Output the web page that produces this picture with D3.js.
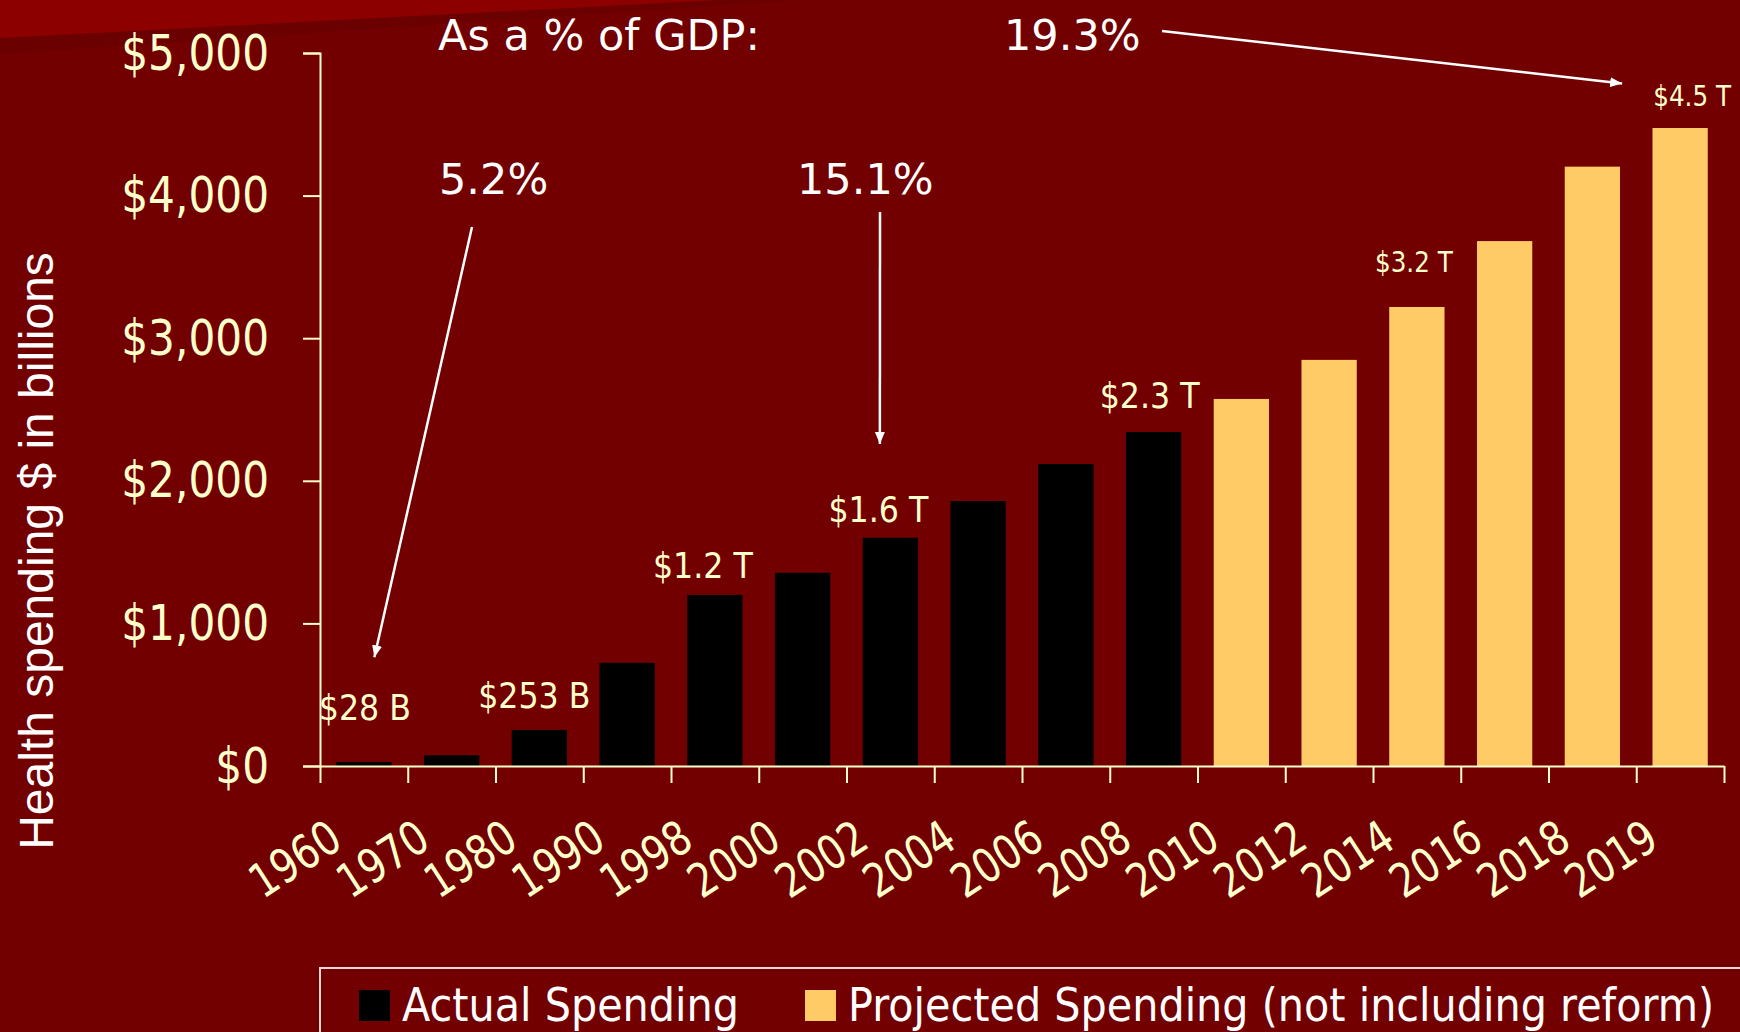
<!DOCTYPE html>
<html>
<head>
<meta charset="utf-8">
<script src="https://cdn.jsdelivr.net/npm/d3@7"></script>
<style>
  html, body { margin: 0; padding: 0; background: #720000; overflow: hidden; }
  svg { display: block; }
</style>
</head>
<body>
<div id="chart"></div>
<script>

// years on the x axis
var years = ["1960", "1970", "1980", "1990", "1998", "2000", "2002", "2004",
             "2006", "2008", "2010", "2012", "2014", "2016", "2018", "2019"];

// health spending, $ billions
var spending = [28, 75, 253, 724, 1200, 1355, 1601, 1858,
                2118, 2342, 2574, 2848, 3219, 3681, 4203, 4474];

// 0 = actual, 1 = projected
var seriesOf = [0, 0, 0, 0, 0, 0, 0, 0, 0, 0, 1, 1, 1, 1, 1, 1];
var seriesNames = ["Actual Spending", "Projected Spending (not including reform)"];

var yTicks = [0, 1000, 2000, 3000, 4000, 5000];

// value labels over some bars
var labelYears = ["1960", "1980", "1998", "2002", "2008", "2014", "2019"];
var labelTexts = ["$28 B", "$253 B", "$1.2 T", "$1.6 T", "$2.3 T", "$3.2 T", "$4.5 T"];

// share of GDP call-outs
var gdpYears  = ["1960", "2002", "2019"];
var gdpShares = ["5.2%", "15.1%", "19.3%"];
var gdpTitle = "As a % of GDP:";
var yTitle = "Health spending $ in billions";


// ---- SETUP ----
var W = 1740, H = 1032;
var bg = "#720000", cream = "#FFFFCC";
var colors = ["#000000", "#FFCB66"];
var tahoma = "'DejaVu Sans', Verdana, sans-serif";

var svg = d3.select("#chart").append("svg")
    .attr("width", W)
    .attr("height", H);

svg.append("rect").attr("width", W).attr("height", H).attr("fill", bg);

// slide header band in the top-left corner
svg.append("path").attr("d", "M0,38 L720,0 L800,0 L0,54 Z").attr("fill", "#660000").attr("opacity", 0.7);
svg.append("path").attr("d", "M0,0 L720,0 L0,38 Z").attr("fill", "#8C0000");

// squeeze text horizontally around its anchor (the original font is narrower)
function squeeze(k) {
    return function() {
        var t = d3.select(this);
        var tx = +t.attr("x") || 0;
        t.attr("x", 0).attr("transform", "translate(" + tx + ",0) scale(" + k + ",1)");
    };
}

// ---- SCALES ----
var x = d3.scaleBand()
    .domain(years)
    .range([320, 1724])
    .paddingInner(0.37)
    .paddingOuter(0.185);

var y = d3.scaleLinear()
    .domain([0, 5000])
    .range([766, 53]);

var edges = d3.scaleLinear()
    .domain([0, years.length])
    .range(x.range());

// ---- BARS ----
var data = years.map(function(d, i) {
    return { year: d, value: spending[i], series: seriesOf[i] };
});

svg.selectAll(".bar")
    .data(data)
    .enter()
    .append("rect")
    .attr("class", "bar")
    .attr("x", d => x(d.year))
    .attr("y", d => y(d.value))
    .attr("width", x.bandwidth())
    .attr("height", d => y(0) - y(d.value))
    .attr("fill", d => colors[d.series]);

// ---- AXES ----
var yAxisGroup = svg.append("g")
    .attr("transform", "translate(" + x.range()[0] + ",0)")
    .call(d3.axisLeft(y)
        .tickValues(yTicks)
        .tickSize(17)
        .tickPadding(34)
        .tickFormat(d => "$" + d3.format(",")(d)));

yAxisGroup.select(".domain").attr("stroke", cream).attr("stroke-width", 2);
yAxisGroup.selectAll(".tick line").attr("stroke", cream).attr("stroke-width", 2);
yAxisGroup.selectAll(".tick text")
    .attr("fill", cream)
    .attr("font-family", tahoma)
    .attr("font-size", 50)
    .each(squeeze(0.845));

// ticks sit on the band edges
var edgeAxisGroup = svg.append("g")
    .attr("transform", "translate(0," + y(0) + ")")
    .call(d3.axisBottom(edges)
        .tickValues(d3.range(years.length + 1))
        .tickSize(17)
        .tickSizeOuter(0)
        .tickFormat(""));

edgeAxisGroup.select(".domain").attr("stroke", cream).attr("stroke-width", 2);
edgeAxisGroup.selectAll(".tick line").attr("stroke", cream).attr("stroke-width", 2);

var xAxisGroup = svg.append("g")
    .attr("transform", "translate(0," + y(0) + ")")
    .call(d3.axisBottom(x).tickSize(0));

xAxisGroup.select(".domain").remove();
xAxisGroup.selectAll(".tick text")
    .attr("fill", cream)
    .attr("font-family", tahoma)
    .attr("font-size", 47)
    .attr("x", 0)
    .attr("y", 0)
    .attr("dy", 0)
    .style("text-anchor", "end")
    .attr("transform", "translate(-19,80) rotate(-33) scale(0.82,1)");

// y axis title
svg.append("text")
    .attr("transform", "translate(53,551) rotate(-90)")
    .attr("text-anchor", "middle")
    .attr("font-family", "'Liberation Sans', Arial, sans-serif")
    .attr("font-size", 48)
    .attr("fill", "#FFFFFF")
    .text(yTitle);

// ---- VALUE LABELS ----
// small hand nudges so the labels sit where the slide put them
var nudge = {
    "1960": [1, 42], "1980": [-5, 22], "1998": [-12, 17], "2002": [-12, 16],
    "2008": [-4, 24], "2014": [-3, 35], "2019": [12, 22]
};

labelYears.forEach(function(yr, i) {
    var v = spending[years.indexOf(yr)];
    var n = nudge[yr] || [0, 18];
    var small = +yr >= 2014;
    svg.append("text")
        .attr("transform", "translate(" + (x(yr) + x.bandwidth() / 2 + n[0]) + "," + (y(v) - n[1]) + ") scale(0.88,1)")
        .attr("text-anchor", "middle")
        .attr("font-family", tahoma)
        .attr("font-size", small ? 28 : 36)
        .attr("fill", cream)
        .text(labelTexts[i]);
});

// ---- GDP CALL-OUTS ----
var defs = svg.append("defs");
defs.append("marker")
    .attr("id", "arrow")
    .attr("markerUnits", "userSpaceOnUse")
    .attr("viewBox", "0 -6 12 12")
    .attr("refX", 12)
    .attr("refY", 0)
    .attr("markerWidth", 12)
    .attr("markerHeight", 12)
    .attr("orient", "auto")
    .append("path")
    .attr("d", "M0,-5L12,0L0,5Z")
    .attr("fill", "#FFFFFF");

function whiteText(str, px, py) {
    svg.append("text")
        .attr("x", px)
        .attr("y", py)
        .attr("font-family", tahoma)
        .attr("font-size", 43)
        .attr("fill", "#FFFFFF")
        .text(str);
}

whiteText(gdpTitle, 438, 50);
whiteText(gdpShares[0], 439, 194);
whiteText(gdpShares[1], 797, 194);
whiteText(gdpShares[2], 1004, 50);

// arrow from the text to a point near the matching bar
var arrowFrom = [[472, 227], [880, 212], [1162, 31]];
var arrowTo = [[10.5, 762], [-10.5, 2258], [-58, 4786]];

gdpYears.forEach(function(yr, i) {
    svg.append("line")
        .attr("x1", arrowFrom[i][0])
        .attr("y1", arrowFrom[i][1])
        .attr("x2", x(yr) + x.bandwidth() / 2 + arrowTo[i][0])
        .attr("y2", y(arrowTo[i][1]))
        .attr("stroke", "#FFFFFF")
        .attr("stroke-width", 2.5)
        .attr("marker-end", "url(#arrow)");
});

// ---- LEGEND ----
svg.append("rect")
    .attr("x", 320)
    .attr("y", 968)
    .attr("width", 1460)
    .attr("height", 120)
    .attr("fill", "none")
    .attr("stroke", "#F2D6D6")
    .attr("stroke-width", 2);

var legendX = [359, 805];
seriesNames.forEach(function(name, i) {
    svg.append("rect")
        .attr("x", legendX[i])
        .attr("y", 990)
        .attr("width", 31)
        .attr("height", 31)
        .attr("fill", colors[i]);
    svg.append("text")
        .attr("transform", "translate(" + (legendX[i] + 43) + ",1021) scale(0.88,1)")
        .attr("font-family", tahoma)
        .attr("font-size", 47)
        .attr("fill", "#FFFFFF")
        .text(name);
});

</script>
</body>
</html>
